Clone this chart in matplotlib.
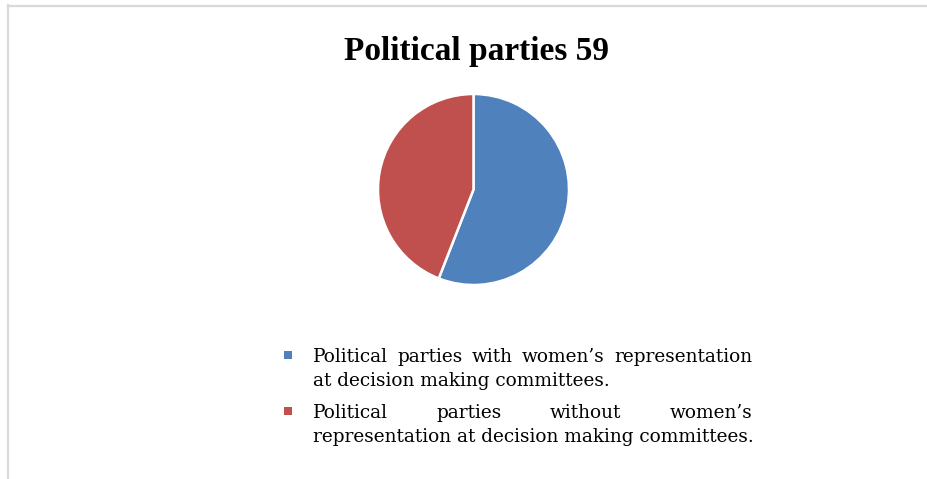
import matplotlib.pyplot as plt
from matplotlib.lines import Line2D
from matplotlib.patches import Rectangle

# chart data
labels = ["Political parties with women\u2019s representation at decision making committees.",
          "Political parties without women\u2019s representation at decision making committees."]
values = [33, 26]
colors = ['#4F81BD', '#C0504D']
title = 'Political parties 59'

# legend lines as they wrap in the original
legend_lines = [
    [("Political parties with women\u2019s representation", True),
     ("at decision making committees.", False)],
    [("Political parties without women\u2019s", True),
     ("representation at decision making committees.", False)],
]

W, H = 928, 479
fig = plt.figure(figsize=(W / 100, H / 100), dpi=100)
plt.rcParams['font.family'] = ['Liberation Serif', 'DejaVu Serif']

# chart frame (left and top edges only visible)
fig.add_artist(Line2D([8.5 / W, 8.5 / W], [0, 1 - 5 / H], color='#D9D9D9', lw=1.6))
fig.add_artist(Line2D([8 / W, 1], [1 - 5.5 / H, 1 - 5.5 / H], color='#D9D9D9', lw=1.6))

fig.text(477 / W, 1 - 60 / H, title, ha='center', va='baseline',
         fontsize=24, fontweight='bold')

# pie
cx, cy, r = 473.5, 189.5, 95.5
ax = fig.add_axes([(cx - r) / W, 1 - (cy + r) / H, 2 * r / W, 2 * r / H])
ax.pie(values, colors=colors, startangle=90, counterclock=False,
       wedgeprops=dict(edgecolor='white', linewidth=1.8))
ax.set_xlim(-1, 1)
ax.set_ylim(-1, 1)
ax.set_aspect('auto')
ax.axis('off')

# legend, justified like the original
renderer = fig.canvas.get_renderer()
x0, x1 = 313, 752
fs = 13.3
lfont = 'DejaVu Serif'
baselines = [[362, 386], [418, 442]]
marker_y = [355, 411]
for i, lines in enumerate(legend_lines):
    fig.add_artist(Rectangle((284 / W, 1 - (marker_y[i] + 4) / H), 8 / W, 8 / H,
                             transform=fig.transFigure, color=colors[i], lw=0))
    for (line, justify), yb in zip(lines, baselines[i]):
        y = 1 - yb / H
        if not justify:
            fig.text(x0 / W, y, line, fontsize=fs, family=lfont, va='baseline', ha='left')
            continue
        words = line.split()
        txts = [fig.text(0, y, w, fontsize=fs, family=lfont, va='baseline', ha='left')
                for w in words]
        widths = [t.get_window_extent(renderer).width for t in txts]
        gap = (x1 - x0 - sum(widths)) / (len(words) - 1)
        x = x0
        for t, w in zip(txts, widths):
            t.set_x(x / W)
            x += w + gap

fig.savefig('out.png', dpi=100)
